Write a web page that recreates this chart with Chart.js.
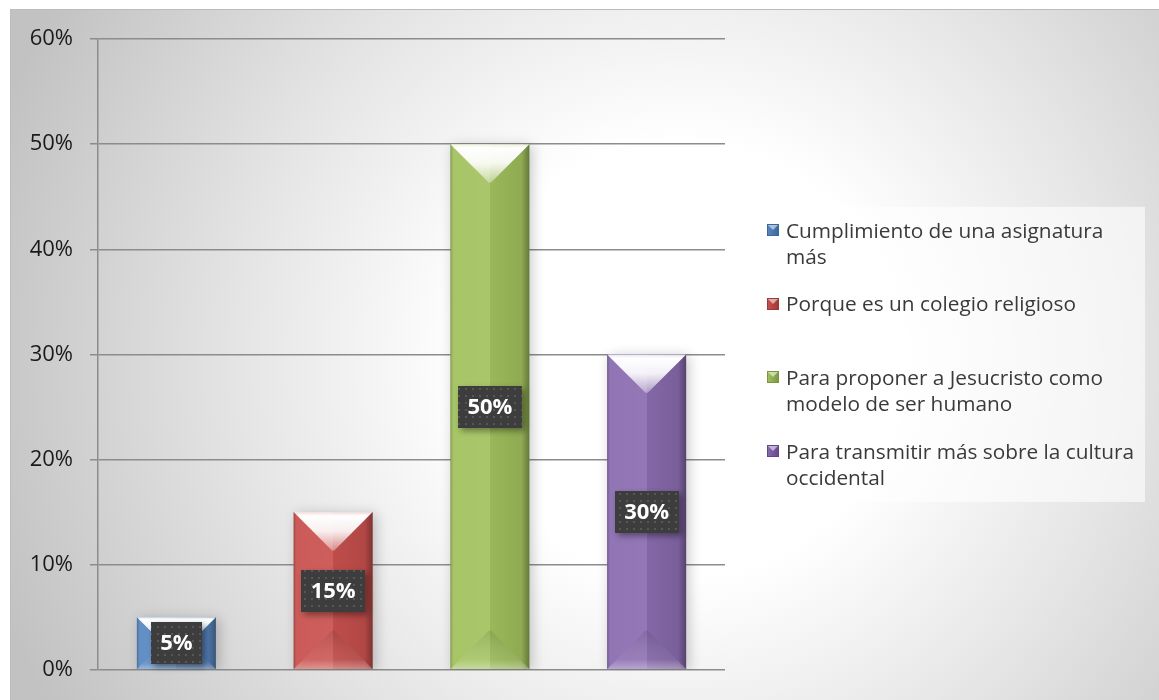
<!DOCTYPE html>
<html>
<head>
<meta charset="utf-8">
<script src="https://cdn.jsdelivr.net/npm/chart.js@4.4.1/dist/chart.umd.min.js"></script>
<style>
  html, body { margin: 0; padding: 0; background: #ffffff; }
  #wrap { width: 1159px; height: 700px; position: relative; }
</style>
</head>
<body>
<div id="wrap"><canvas id="c" width="1159" height="700"></canvas></div>
<script>
// ---- data ----
const categories = ['Cumplimiento de una asignatura más', 'Porque es un colegio religioso', 'Para proponer a Jesucristo como modelo de ser humano', 'Para transmitir más sobre la cultura occidental'];
const seriesLegendLines = [
  ['Cumplimiento de una asignatura', 'más'],
  ['Porque es un colegio religioso', ''],
  ['Para proponer a Jesucristo como', 'modelo de ser humano'],
  ['Para transmitir más sobre la cultura', 'occidental']
];
const values = [5, 15, 50, 30];
const yTicks = [0, 10, 20, 30, 40, 50, 60];
const seriesColors = ['#5a88c2', '#c9514e', '#a2c25e', '#8a6cb0'];
const seriesBorders = ['#3c6699', '#9c3a37', '#7a9640', '#64478a'];

// ---- background plugin ----
const bgPlugin = {
  id: 'bg',
  beforeDraw(chart) {
    const ctx = chart.ctx;
    const W = chart.width, H = chart.height;
    ctx.save();
    ctx.fillStyle = '#ffffff';
    ctx.fillRect(0, 0, W, H);
    const g = ctx.createRadialGradient(680, 360, 0, 680, 360, 720);
    g.addColorStop(0, '#ffffff');
    g.addColorStop(0.3, '#ffffff');
    g.addColorStop(0.6, '#e6e6e6');
    g.addColorStop(1, '#c2c2c2');
    ctx.fillStyle = g;
    ctx.fillRect(10, 9, W - 10, H - 9);
    ctx.strokeStyle = '#bcbcbc';
    ctx.lineWidth = 1;
    ctx.beginPath();
    ctx.moveTo(10.5, H);
    ctx.lineTo(10.5, 9.5);
    ctx.lineTo(W, 9.5);
    ctx.stroke();
    ctx.restore();
  }
};

// ---- legend (drawn beside the chart area) ----
const LEG = { gap: 29, markerInset: 13, marker: 12, textGap: 7, fontSize: 20.8, lineH: 26, itemGap: 21.7, padTop: 10, padBottom: 12, padRight: 14, textShift: 2 };
const legendPlugin = {
  id: 'sideLegend',
  afterDraw(chart) {
    const ctx = chart.ctx;
    const ca = chart.chartArea;
    const n = seriesLegendLines.length;
    const itemH = 2 * LEG.lineH;
    const blockH = n * itemH + (n - 1) * LEG.itemGap;
    const bgLeft = ca.right + LEG.gap;
    const bgRight = chart.width - LEG.padRight;
    const bgH = blockH + LEG.padTop + LEG.padBottom;
    const bgTop = (ca.top + ca.bottom) / 2 - bgH / 2;
    ctx.save();
    ctx.fillStyle = 'rgba(255,255,255,0.6)';
    ctx.fillRect(bgLeft, bgTop, bgRight - bgLeft, bgH);
    ctx.font = LEG.fontSize + 'px "Open Sans"';
    ctx.textBaseline = 'middle';
    ctx.textAlign = 'left';
    seriesLegendLines.forEach((lines, i) => {
      const y0 = bgTop + LEG.padTop + i * (itemH + LEG.itemGap) + LEG.lineH / 2;
      const mx = bgLeft + LEG.markerInset;
      const my = Math.round(y0 - LEG.marker / 2);
      const mg = ctx.createLinearGradient(mx, 0, mx + LEG.marker, 0);
      mg.addColorStop(0, seriesColors[i]);
      mg.addColorStop(1, seriesBorders[i]);
      ctx.fillStyle = mg;
      ctx.fillRect(mx, my, LEG.marker, LEG.marker);
      ctx.fillStyle = 'rgba(255,255,255,0.55)';
      ctx.beginPath();
      ctx.moveTo(mx, my); ctx.lineTo(mx + LEG.marker, my); ctx.lineTo(mx + LEG.marker / 2, my + LEG.marker / 2); ctx.closePath();
      ctx.fill();
      ctx.strokeStyle = seriesBorders[i];
      ctx.lineWidth = 1;
      ctx.strokeRect(mx + 0.5, my + 0.5, LEG.marker - 1, LEG.marker - 1);
      ctx.fillStyle = '#3a3a3a';
      lines.forEach((ln, k) => {
        ctx.fillText(ln, mx + LEG.marker + LEG.textGap, y0 + k * LEG.lineH + LEG.textShift);
      });
    });
    ctx.restore();
  }
};

// ---- bar shadow ----
const shadowPlugin = {
  id: 'barShadow',
  beforeDatasetsDraw(chart) {
    const ctx = chart.ctx;
    ctx.save();
    ctx.shadowColor = 'rgba(0,0,0,0.22)';
    ctx.shadowBlur = 12;
    ctx.shadowOffsetX = 3;
    ctx.shadowOffsetY = 2;
  },
  afterDatasetsDraw(chart) {
    chart.ctx.restore();
  }
};

// ---- bevel overlay ----
const bevelPlugin = {
  id: 'bevel',
  afterDatasetsDraw(chart) {
    const ctx = chart.ctx;
    chart.data.datasets.forEach((ds, i) => {
      const meta = chart.getDatasetMeta(i);
      meta.data.forEach((el, j) => {
        if (ds.data[j] === null || ds.data[j] === undefined) return;
        const p = el.getProps(['x', 'y', 'base', 'width'], true);
        const x0 = p.x - p.width / 2, x1 = p.x + p.width / 2;
        const top = Math.min(p.y, p.base), bot = Math.max(p.y, p.base);
        const w = p.width, h = bot - top;
        ctx.save();
        const hg = ctx.createLinearGradient(x0, 0, x1, 0);
        hg.addColorStop(0, 'rgba(0,0,0,0.22)');
        hg.addColorStop(0.05, 'rgba(255,255,255,0.06)');
        hg.addColorStop(0.5, 'rgba(255,255,255,0.08)');
        hg.addColorStop(0.5, 'rgba(0,0,0,0.05)');
        hg.addColorStop(0.9, 'rgba(0,0,0,0.12)');
        hg.addColorStop(1, 'rgba(0,0,0,0.38)');
        ctx.fillStyle = hg;
        ctx.fillRect(x0, top, w, h);
        const b = Math.min(w / 2, h / 2) * 0.97;
        const tg = ctx.createLinearGradient(0, top, 0, top + b);
        tg.addColorStop(0, 'rgba(255,255,255,0.8)');
        tg.addColorStop(0.1, 'rgba(255,255,255,1)');
        tg.addColorStop(0.5, 'rgba(255,255,255,0.9)');
        tg.addColorStop(1, 'rgba(255,255,255,0.35)');
        ctx.fillStyle = tg;
        ctx.beginPath();
        ctx.moveTo(x0, top);
        ctx.lineTo(x1, top);
        ctx.lineTo(x1 - b, top + b);
        ctx.lineTo(x0 + b, top + b);
        ctx.closePath();
        ctx.fill();
        const bg = ctx.createLinearGradient(0, bot - b, 0, bot);
        bg.addColorStop(0, 'rgba(0,0,0,0.10)');
        bg.addColorStop(0.75, 'rgba(255,255,255,0.06)');
        bg.addColorStop(1, 'rgba(255,255,255,0.35)');
        ctx.fillStyle = bg;
        ctx.beginPath();
        ctx.moveTo(x0, bot);
        ctx.lineTo(x1, bot);
        ctx.lineTo(x1 - b, bot - b);
        ctx.lineTo(x0 + b, bot - b);
        ctx.closePath();
        ctx.fill();
        ctx.restore();
      });
    });
  }
};

// ---- data labels ----
function makePattern(ctx) {
  const c = document.createElement('canvas');
  c.width = 7; c.height = 7;
  const x = c.getContext('2d');
  x.fillStyle = '#3d3d3d';
  x.fillRect(0, 0, 7, 7);
  x.fillStyle = '#575757';
  x.fillRect(3, 3, 2, 2);
  return ctx.createPattern(c, 'repeat');
}
const labelPlugin = {
  id: 'valueLabels',
  afterDatasetsDraw(chart) {
    const ctx = chart.ctx;
    const pat = makePattern(ctx);
    chart.data.datasets.forEach((ds, i) => {
      const meta = chart.getDatasetMeta(i);
      meta.data.forEach((el, j) => {
        const v = ds.data[j];
        if (v === null || v === undefined) return;
        const p = el.getProps(['x', 'y', 'base'], true);
        const cx = p.x, cy = (p.y + p.base) / 2;
        const txt = v + '%';
        ctx.save();
        ctx.font = 'bold 22px "Open Sans"';
        const tw = ctx.measureText(txt).width;
        const bw = tw + 19, bh = 42;
        ctx.shadowColor = 'rgba(0,0,0,0.4)';
        ctx.shadowBlur = 6;
        ctx.shadowOffsetX = 3;
        ctx.shadowOffsetY = 3;
        ctx.fillStyle = pat;
        ctx.fillRect(Math.round(cx - bw / 2), Math.round(cy - bh / 2), Math.round(bw), bh);
        ctx.shadowColor = 'transparent';
        ctx.fillStyle = '#ffffff';
        ctx.textAlign = 'center';
        ctx.textBaseline = 'middle';
        ctx.fillText(txt, cx, cy + 1);
        ctx.restore();
      });
    });
  }
};

const datasets = values.map((v, i) => ({
  label: categories[i],
  data: values.map((vv, j) => (j === i ? vv : null)),
  backgroundColor: seriesColors[i],
  borderWidth: 0,
  skipNull: true,
  categoryPercentage: 1.0,
  barPercentage: 0.504
}));

new Chart(document.getElementById('c'), {
  type: 'bar',
  data: { labels: categories, datasets },
  options: {
    responsive: false,
    animation: false,
    devicePixelRatio: 1,
    layout: { padding: { left: 10, top: 39, right: 434, bottom: 23 } },
    plugins: {
      tooltip: { enabled: false },
      legend: { display: false }
    },
    scales: {
      x: {
        display: false,
        grid: { display: false }
      },
      y: {
        min: 0,
        max: 60,
        afterFit(scale) { scale.width = 88; },
        afterBuildTicks(scale) { scale.ticks = yTicks.map(v => ({ value: v })); },
        ticks: {
          stepSize: 10,
          padding: 17,
          color: '#1a1a1a',
          font: { family: '"Open Sans"', size: 22 },
          callback: v => v + '%'
        },
        grid: {
          color: '#8c8c8c',
          lineWidth: 1.5,
          tickLength: 8,
          drawTicks: true
        },
        border: { display: true, color: '#8c8c8c', width: 1.5 }
      }
    }
  },
  plugins: [bgPlugin, shadowPlugin, bevelPlugin, labelPlugin, legendPlugin]
});
</script>
</body>
</html>
